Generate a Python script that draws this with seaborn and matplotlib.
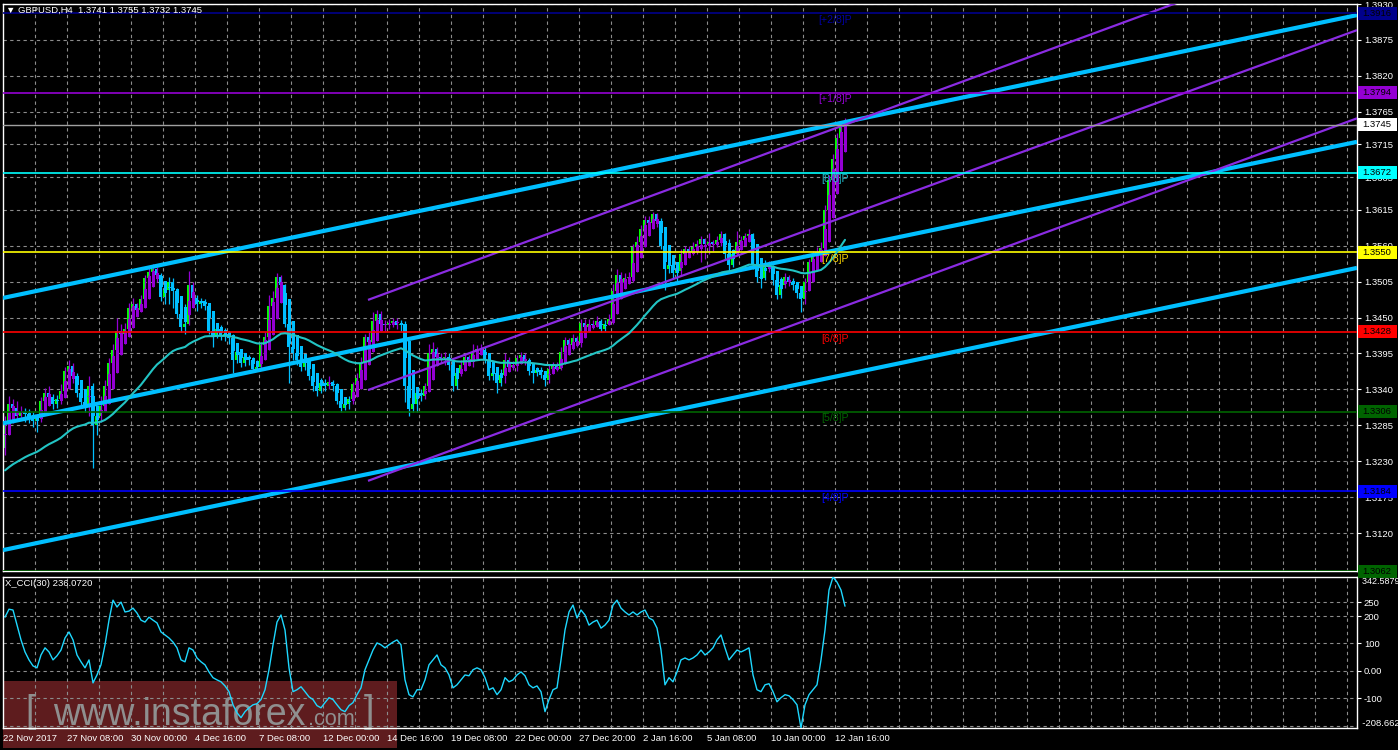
import matplotlib
matplotlib.use("Agg")
import matplotlib.pyplot as plt
from matplotlib.patches import Rectangle
import numpy as np
import pandas as pd
import seaborn as sns

# ---------------- data ----------------
first_open = 1.3250
closes = [
    1.3290, 1.3318, 1.3312, 1.3300, 1.3306, 1.3302, 1.3298, 1.3292, 1.3296, 1.3322,
    1.3335, 1.3328, 1.3318, 1.3325, 1.3338, 1.3368, 1.3376, 1.3360, 1.3335, 1.3320,
    1.3315, 1.3345, 1.3285, 1.3300, 1.3315, 1.3345, 1.3380, 1.3400, 1.3430, 1.3425,
    1.3432, 1.3465, 1.3470, 1.3462, 1.3478, 1.3510, 1.3520, 1.3525, 1.3515, 1.3482,
    1.3492, 1.3505, 1.3490, 1.3455, 1.3435, 1.3440, 1.3500, 1.3480, 1.3470, 1.3475,
    1.3468, 1.3430, 1.3420, 1.3432, 1.3422, 1.3425, 1.3418, 1.3385, 1.3398, 1.3380,
    1.3390, 1.3385, 1.3372, 1.3375, 1.3408, 1.3420, 1.3468, 1.3480, 1.3512, 1.3500,
    1.3440, 1.3405, 1.3395, 1.3385, 1.3375, 1.3385, 1.3360, 1.3345, 1.3338, 1.3350,
    1.3345, 1.3352, 1.3345, 1.3322, 1.3312, 1.3318, 1.3325, 1.3348, 1.3358, 1.3380,
    1.3420, 1.3412, 1.3445, 1.3455, 1.3440, 1.3438, 1.3442, 1.3445, 1.3438, 1.3440,
    1.3345, 1.3310, 1.3318, 1.3335, 1.3330, 1.3345, 1.3395, 1.3402, 1.3390, 1.3388,
    1.3390, 1.3378, 1.3345, 1.3365, 1.3378, 1.3390, 1.3385, 1.3398, 1.3402, 1.3400,
    1.3385, 1.3360, 1.3365, 1.3350, 1.3362, 1.3385, 1.3375, 1.3378, 1.3388, 1.3392,
    1.3383, 1.3368, 1.3365, 1.3370, 1.3362, 1.3355, 1.3372, 1.3378, 1.3372, 1.3398,
    1.3415, 1.3408, 1.3418, 1.3412, 1.3442, 1.3435, 1.3440, 1.3438, 1.3445, 1.3432,
    1.3440, 1.3448, 1.3490, 1.3515, 1.3505, 1.3510, 1.3512, 1.3558, 1.3565, 1.3585,
    1.3600, 1.3595, 1.3608, 1.3598, 1.3560, 1.3525, 1.3530, 1.3518, 1.3522, 1.3548,
    1.3555, 1.3550, 1.3558, 1.3562, 1.3570, 1.3562, 1.3565, 1.3562, 1.3568, 1.3578,
    1.3548, 1.3530, 1.3548, 1.3565, 1.3568, 1.3575, 1.3578, 1.3530, 1.3512, 1.3510,
    1.3532, 1.3528, 1.3508, 1.3485, 1.3500, 1.3512, 1.3505, 1.3500, 1.3488, 1.3478,
    1.3505, 1.3535, 1.3545, 1.3550, 1.3556, 1.3615, 1.3660, 1.3692, 1.3725, 1.3741,
    1.3745,
]
highs = [
    1.3300, 1.3330, 1.3326, 1.3322, 1.3315, 1.3312, 1.3310, 1.3305, 1.3302, 1.3328,
    1.3342, 1.3345, 1.3333, 1.3332, 1.3348, 1.3375, 1.3385, 1.3380, 1.3365, 1.3340,
    1.3330, 1.3360, 1.3350, 1.3315, 1.3330, 1.3355, 1.3388, 1.3410, 1.3450, 1.3440,
    1.3442, 1.3472, 1.3480, 1.3472, 1.3485, 1.3515, 1.3528, 1.3532, 1.3528, 1.3518,
    1.3505, 1.3512, 1.3510, 1.3495, 1.3475, 1.3470, 1.3522, 1.3505, 1.3485, 1.3480,
    1.3478, 1.3472, 1.3440, 1.3440, 1.3438, 1.3434, 1.3430, 1.3425, 1.3410, 1.3400,
    1.3395, 1.3392, 1.3390, 1.3385, 1.3412, 1.3428, 1.3485, 1.3490, 1.3518, 1.3515,
    1.3502, 1.3445, 1.3420, 1.3405, 1.3395, 1.3392, 1.3388, 1.3365, 1.3355, 1.3358,
    1.3356, 1.3360, 1.3355, 1.3350, 1.3328, 1.3325, 1.3330, 1.3352, 1.3365, 1.3390,
    1.3425, 1.3430, 1.3459, 1.3462, 1.3460, 1.3446, 1.3448, 1.3450, 1.3450, 1.3446,
    1.3445, 1.3350, 1.3335, 1.3342, 1.3340, 1.3350, 1.3410, 1.3412, 1.3405, 1.3395,
    1.3398, 1.3395, 1.3380, 1.3372, 1.3385, 1.3396, 1.3393, 1.3410, 1.3408, 1.3410,
    1.3405, 1.3390, 1.3375, 1.3370, 1.3372, 1.3395, 1.3390, 1.3384, 1.3392, 1.3398,
    1.3395, 1.3388, 1.3375, 1.3374, 1.3375, 1.3368, 1.3378, 1.3382, 1.3382, 1.3405,
    1.3420, 1.3418, 1.3425, 1.3422, 1.3448, 1.3448, 1.3448, 1.3446, 1.3452, 1.3448,
    1.3446, 1.3455, 1.3502, 1.3525, 1.3520, 1.3518, 1.3520, 1.3562, 1.3575, 1.3592,
    1.3605, 1.3605, 1.3612, 1.3610, 1.3602, 1.3565, 1.3545, 1.3535, 1.3528, 1.3555,
    1.3560, 1.3560, 1.3565, 1.3568, 1.3575, 1.3572, 1.3580, 1.3568, 1.3575, 1.3582,
    1.3580, 1.3570, 1.3555, 1.3582, 1.3575, 1.3580, 1.3585, 1.3580, 1.3535, 1.3520,
    1.3538, 1.3536, 1.3530, 1.3515, 1.3512, 1.3518, 1.3515, 1.3510, 1.3505, 1.3495,
    1.3510, 1.3540, 1.3552, 1.3558, 1.3565, 1.3622, 1.3668, 1.3700, 1.3732, 1.3750,
    1.3755,
]
lows = [
    1.3240, 1.3285, 1.3300, 1.3292, 1.3295, 1.3290, 1.3288, 1.3282, 1.3275, 1.3290,
    1.3315, 1.3322, 1.3310, 1.3312, 1.3318, 1.3332, 1.3355, 1.3350, 1.3328, 1.3315,
    1.3305, 1.3300, 1.3219, 1.3270, 1.3290, 1.3305, 1.3340, 1.3372, 1.3395, 1.3415,
    1.3418, 1.3425, 1.3455, 1.3455, 1.3458, 1.3470, 1.3495, 1.3505, 1.3505, 1.3475,
    1.3470, 1.3470, 1.3465, 1.3450, 1.3428, 1.3425, 1.3438, 1.3470, 1.3460, 1.3465,
    1.3462, 1.3425, 1.3405, 1.3418, 1.3415, 1.3414, 1.3410, 1.3365, 1.3380, 1.3375,
    1.3376, 1.3378, 1.3368, 1.3368, 1.3370, 1.3405, 1.3415, 1.3455, 1.3470, 1.3490,
    1.3435, 1.3350, 1.3385, 1.3378, 1.3368, 1.3370, 1.3355, 1.3338, 1.3330, 1.3335,
    1.3338, 1.3340, 1.3338, 1.3318, 1.3306, 1.3308, 1.3310, 1.3318, 1.3340, 1.3350,
    1.3375, 1.3400, 1.3410, 1.3420, 1.3430, 1.3430, 1.3432, 1.3436, 1.3432, 1.3430,
    1.3320, 1.3300, 1.3305, 1.3306, 1.3322, 1.3325, 1.3340, 1.3380, 1.3380, 1.3380,
    1.3378, 1.3370, 1.3338, 1.3340, 1.3360, 1.3375, 1.3378, 1.3375, 1.3390, 1.3395,
    1.3380, 1.3355, 1.3355, 1.3335, 1.3345, 1.3350, 1.3370, 1.3370, 1.3368, 1.3380,
    1.3378, 1.3362, 1.3350, 1.3360, 1.3358, 1.3345, 1.3350, 1.3368, 1.3368, 1.3370,
    1.3395, 1.3400, 1.3400, 1.3405, 1.3405, 1.3428, 1.3430, 1.3432, 1.3436, 1.3428,
    1.3430, 1.3438, 1.3440, 1.3480, 1.3498, 1.3500, 1.3505, 1.3505, 1.3545, 1.3560,
    1.3578, 1.3588, 1.3590, 1.3588, 1.3555, 1.3492, 1.3518, 1.3510, 1.3505, 1.3515,
    1.3540, 1.3545, 1.3545, 1.3548, 1.3535, 1.3540, 1.3548, 1.3552, 1.3558, 1.3560,
    1.3540, 1.3522, 1.3528, 1.3545, 1.3560, 1.3562, 1.3565, 1.3525, 1.3505, 1.3495,
    1.3508, 1.3520, 1.3500, 1.3478, 1.3480, 1.3495, 1.3498, 1.3492, 1.3480, 1.3459,
    1.3470, 1.3500, 1.3528, 1.3540, 1.3545, 1.3552, 1.3610, 1.3655, 1.3685, 1.3718,
    1.3732,
]
cci_values = [
    196, 225, 222, 167, 113, 69, 40, 18, 11, 58,
    84, 69, 40, 55, 76, 120, 142, 113, 58, 33,
    11, 40, -44, -15, 22, 95, 185, 258, 233, 251,
    215, 218, 229, 211, 185, 178, 196, 185, 175, 142,
    131, 120, 105, 84, 40, 33, 84, 76, 47, 33,
    22, -4, -25, -33, -40, -55, -76, -124, -153, -171,
    -149, -135, -124, -120, -105, -69, 4, 95, 178, 204,
    149, 11, -76, -69, -58, -76, -95, -105, -127, -135,
    -116, -98, -105, -124, -142, -149, -127, -116, -87, -62,
    4, 40, 76, 102, 95, 84, 95, 105, 113, 95,
    -33, -87, -95, -69, -69, -33, 22, 40, 58, 22,
    11, -15, -62, -51, -33, -15, -18, 4, 11, 4,
    -25, -69, -62, -87, -69, -25, -40, -33, -15, -4,
    -18, -51, -62, -55, -76, -149, -105, -69, -62, 40,
    149, 215, 240, 193, 222, 204, 167, 178, 185, 156,
    167, 185, 240, 258, 229, 215, 204, 215, 204, 215,
    222, 193, 185, 156, 76, -51, -25, -40, -4, 40,
    47, 40, 47, 58, 76, 58, 69, 84, 113, 131,
    84, 40, 58, 76, 69, 76, 84, -15, -69, -76,
    -51, -47, -76, -113, -98, -87, -91, -105, -124, -208.662,
    -124, -87, -69, -51, 40, 149, 295, 342.5879, 324, 295,
    236.072,
]
ma_seed = 1.3216      # moving average value at the first visible bar
ma_period = 40

x_tick_bars = [0, 16, 32, 48, 64, 80, 96, 112, 128, 144, 160, 176, 192, 208]
x_tick_labels = ["22 Nov 2017", "27 Nov 08:00", "30 Nov 00:00", "4 Dec 16:00",
                 "7 Dec 08:00", "12 Dec 00:00", "14 Dec 16:00", "19 Dec 08:00",
                 "22 Dec 00:00", "27 Dec 20:00", "2 Jan 16:00", "5 Jan 08:00",
                 "10 Jan 00:00", "12 Jan 16:00"]
price_ticks = [1.3930, 1.3875, 1.3820, 1.3765, 1.3715, 1.3665, 1.3615, 1.3560,
               1.3505, 1.3450, 1.3395, 1.3340, 1.3285, 1.3230, 1.3175, 1.3120]
cci_ticks = [250, 200, 100, 0, -100]
cci_tick_labels = ["250", "200", "100", "0.00", "-100"]
cci_max, cci_min = 342.5879, -208.662

murrey_levels = [1.3916, 1.3794, 1.3672, 1.3550, 1.3428, 1.3306, 1.3184, 1.3062]
murrey_names = ["[+2/8]P", "[+1/8]P", "[8/8]P", "[7/8]P", "[6/8]P", "[5/8]P", "[4/8]P", ""]
murrey_colors = ["#00008B", "#9400D3", "#00FFFF", "#FFFF00", "#FF0000", "#006400", "#0000FF", "#006400"]
murrey_text_colors = ["#0000A0", "#9400D3", "#20B8C8", "#FFD700", "#FF0000", "#006400", "#0000FF", "#006400"]
current_price = 1.3745
title_text = "\u25BC GBPUSD,H4  1.3741 1.3755 1.3732 1.3745"
cci_title = "X_CCI(30) 236.0720"

# trend lines as (bar, price) end points
blue_lines = [((-0.5, 1.3480), (338, 1.3913)),
              ((-0.5, 1.3288), (338, 1.3719)),
              ((-0.5, 1.3094), (338, 1.3526))]
purple_lines = [((90.75, 1.3477), (338, 1.4033)),
                ((90.75, 1.3339), (338, 1.3890)),
                ((90.75, 1.3200), (338, 1.3755))]

# ---------------- derived series ----------------
n = len(closes)
bars = np.arange(n)
c = np.array(closes)
o = np.concatenate([[first_open], c[:-1]])
h = np.maximum(np.array(highs), np.maximum(o, c))
l = np.minimum(np.array(lows), np.minimum(o, c))

ha_c = (o + h + l + c) / 4.0
ha_o = np.zeros(n)
ha_o[0] = (o[0] + c[0]) / 2.0
for i in range(1, n):
    ha_o[i] = (ha_o[i - 1] + ha_c[i - 1]) / 2.0
ha_h = np.maximum(h, np.maximum(ha_o, ha_c))
ha_l = np.minimum(l, np.minimum(ha_o, ha_c))

alpha = 2.0 / (ma_period + 1)
ma = np.zeros(n)
ma[0] = ma_seed
for i in range(1, n):
    ma[i] = ma[i - 1] + alpha * (c[i] - ma[i - 1])

df = pd.DataFrame({"bar": bars, "ma": ma, "cci": cci_values})

# ---------------- styling ----------------
sns.set_theme(style="dark", rc={"axes.facecolor": "black", "figure.facecolor": "black"})
plt.rcParams["font.family"] = ["Liberation Sans", "DejaVu Sans"]

W, H = 1398, 750
fig = plt.figure(figsize=(W / 100, H / 100), dpi=100, facecolor="black")


def fx(px):
    return px / W


def fy(py):
    return 1 - py / H


ax = fig.add_axes([fx(3), fy(571), fx(1357) - fx(3), fy(4) - fy(571)])
axc = fig.add_axes([fx(3), fy(728), fx(1357) - fx(3), fy(577) - fy(728)])
ax.set_facecolor("black")
axc.set_facecolor("none")

XL = (-0.5, 338)
ax.set_xlim(*XL)
axc.set_xlim(*XL)
ax.set_ylim(1.3062, 1.3930)
axc.set_ylim(cci_min, cci_max)

GRID = dict(color="#8c8c8c", lw=0.8, ls=(0, (3, 3)), zorder=0.5)
for p in price_ticks:
    ax.axhline(p, **GRID)
for k in range(1, 43):
    ax.axvline(8 * k - 0.5, **GRID)
    axc.axvline(8 * k - 0.5, **GRID)
for v in [250, 200, 100, 0, -100, -200]:
    axc.axhline(v, **GRID)

for a in (ax, axc):
    a.grid(False)
    for s in a.spines.values():
        s.set_color("white")
        s.set_linewidth(1.0)

# candles: real bodies (slightly left) then Heiken Ashi overlay (slightly right)
up = c >= o
real_col = np.where(up, "#00FF00", "#00BFFF")
ax.bar(bars - 0.18, np.maximum(np.abs(c - o), 0.00015), bottom=np.minimum(o, c), width=0.6,
       color=real_col, linewidth=0, zorder=2)
ha_up = ha_c >= ha_o
ha_col = np.where(ha_up, "#9400D3", "#00BFFF")
ax.vlines(bars, ha_l, ha_h, colors=ha_col, lw=0.9, zorder=2.5)
ax.bar(bars + 0.1, np.maximum(np.abs(ha_c - ha_o), 0.00015), bottom=np.minimum(ha_o, ha_c),
       width=0.62, color=ha_col, linewidth=0, zorder=3)

# moving average
sns.lineplot(data=df, x="bar", y="ma", ax=ax, color="#22C4C4", linewidth=1.5,
             estimator=None, sort=False, zorder=4.5)

# channel lines
for (x0, y0), (x1, y1) in blue_lines:
    ax.plot([x0, x1], [y0, y1], color="#00BFFF", lw=3.0, solid_capstyle="butt", zorder=4)
for (x0, y0), (x1, y1) in purple_lines:
    ax.plot([x0, x1], [y0, y1], color="#8A2BE2", lw=1.6, solid_capstyle="butt", zorder=4)

# Murrey levels
for lev, name, col, tcol in zip(murrey_levels, murrey_names, murrey_colors, murrey_text_colors):
    ax.axhline(lev, color=col, lw=1.2, zorder=4)
    if name:
        ax.text(207.5, lev - 0.00025, name, color=tcol, ha="center", va="top",
                fontsize=7.6, zorder=6)
ax.axhline(current_price, color="#a0a0a0", lw=1.0, zorder=4)

# axes ticks
ax.set_xticks([])
ax.yaxis.tick_right()
ax.set_yticks(price_ticks)
ax.set_yticklabels([f"{p:.4f}" for p in price_ticks])
ax.tick_params(axis="y", colors="white", labelcolor="white", length=3, width=0.8,
               labelsize=6.8, pad=2, direction="out")
ax.set_xlabel("")
ax.set_ylabel("")

sns.lineplot(data=df, x="bar", y="cci", ax=axc, color="#1ED8FF", linewidth=1.0,
             estimator=None, sort=False, zorder=4)
axc.yaxis.tick_right()
axc.set_yticks(cci_ticks)
axc.set_yticklabels(cci_tick_labels)
axc.tick_params(axis="y", colors="white", labelcolor="white", length=3, width=0.8,
                labelsize=6.8, pad=2)
axc.set_xticks([b - 0.5 for b in x_tick_bars])
axc.set_xticklabels(x_tick_labels)
for t in axc.get_xticklabels():
    t.set_ha("left")
axc.tick_params(axis="x", colors="white", labelcolor="white", length=3, width=0.8,
                labelsize=6.8, pad=1)
axc.set_xlabel("")
axc.set_ylabel("")
axc.text(1.0, 1.0, "  " + f"{cci_max:.4f}", transform=axc.transAxes, color="white",
         fontsize=6.5, ha="left", va="top")
axc.text(1.0, 0.0, "  " + f"{cci_min:.3f}", transform=axc.transAxes, color="white",
         fontsize=6.8, ha="left", va="bottom")

# price boxes on the right scale
fig.canvas.draw()
box_levels = murrey_levels + [current_price]
box_colors = murrey_colors + ["#FFFFFF"]
for lev, col in zip(box_levels, box_colors):
    yd = ax.transData.transform((0, lev))[1] / H
    fig.add_artist(Rectangle((1358 / W, yd - 6.5 / H), 39 / W, 13 / H,
                             transform=fig.transFigure, facecolor=col, edgecolor="none",
                             zorder=5))
    fig.text(1362 / W, yd, f"{lev:.4f}", color="black", fontsize=6.8, va="center",
             ha="left", zorder=6)

# titles
fig.text(6 / W, fy(10), title_text, color="white", fontsize=6.8, va="center", ha="left")
fig.text(5 / W, fy(584), cci_title, color="white", fontsize=6.8, va="center", ha="left")

# watermark
fig.add_artist(Rectangle((3 / W, fy(748)), 394 / W, 67 / H, transform=fig.transFigure,
                         facecolor="#5E1C1E", edgecolor="none", zorder=-2))
wm = "#8f8f8f"
fig.text(25 / W, fy(722), "[", color=wm, fontsize=27, va="baseline", ha="left", zorder=-1)
fig.text(53 / W, fy(725), "www.instaforex", color=wm, fontsize=27, va="baseline",
         ha="left", zorder=-1)
fig.text(308 / W, fy(725), ".com", color=wm, fontsize=15.6, va="baseline", ha="left",
         zorder=-1)
fig.text(364 / W, fy(722), "]", color=wm, fontsize=27, va="baseline", ha="left", zorder=-1)

fig.savefig("out.png", dpi=100, facecolor="black")
